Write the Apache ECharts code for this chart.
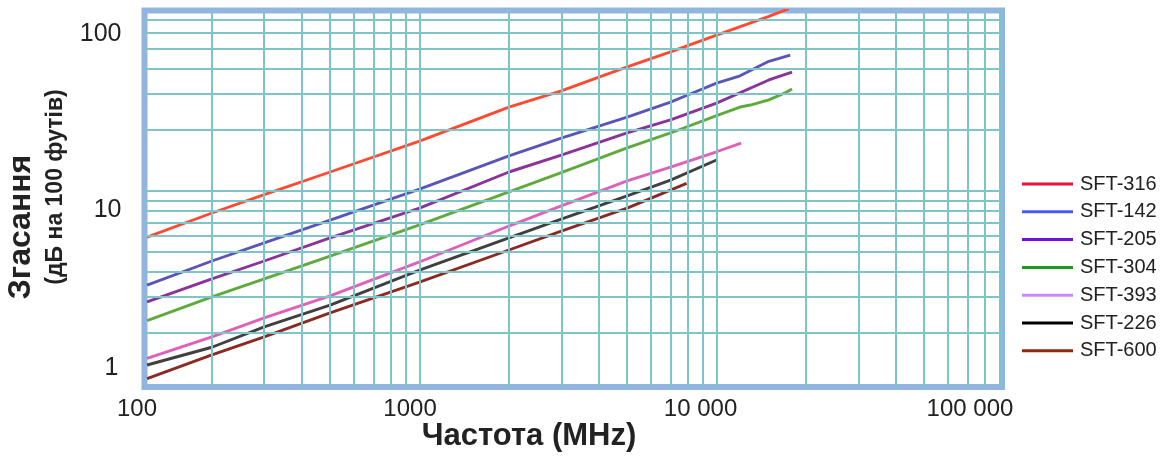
<!DOCTYPE html>
<html>
<head>
<meta charset="utf-8">
<script src="https://cdn.jsdelivr.net/npm/echarts@6/dist/echarts.min.js"></script>
<style>
  html, body { margin: 0; padding: 0; background: #ffffff; }
  #chart { width: 1170px; height: 456px; }
</style>
</head>
<body>
<div id="chart"></div>
<script>
// ---- data (frequency MHz, attenuation dB/100 ft) ----
const seriesNames = ['SFT-316', 'SFT-142', 'SFT-205', 'SFT-304', 'SFT-393', 'SFT-226', 'SFT-600'];

const f316 = [121, 200, 300, 500, 1000, 2000, 3000, 5000, 7000, 10000, 15000, 17500];
const a316 = [5.93, 7.79, 9.6, 12.4, 17.6, 25.9, 31.1, 40.8, 48.4, 58.6, 72.4, 79];

const f142 = [121, 200, 300, 500, 1000, 2000, 3000, 5000, 7000, 8000, 10000, 12000, 15000, 17700];
const a142 = [3.44, 4.52, 5.55, 7.19, 10.2, 14.9, 18.2, 23.1, 27.4, 29.7, 34.0, 36.9, 43.5, 46.7];

const f205 = [121, 200, 300, 500, 1000, 2000, 3000, 5000, 7000, 10000, 15000, 17950];
const a205 = [2.84, 3.69, 4.52, 5.87, 8.24, 12.4, 15.0, 19.3, 22.4, 27.1, 35.2, 38.5];

const f304 = [121, 200, 300, 500, 1000, 2000, 3000, 5000, 7000, 10000, 12000, 13000, 15000, 17000, 17950];
const a304 = [2.30, 3.01, 3.69, 4.78, 6.80, 9.89, 12.3, 16.3, 19.3, 23.5, 25.9, 26.5, 28.1, 30.4, 31.8];

const f393 = [121, 200, 300, 500, 1000, 2000, 3000, 5000, 7000, 10000, 12100];
const a393 = [1.50, 1.91, 2.37, 3.04, 4.47, 6.72, 8.44, 11.2, 13.1, 15.6, 17.2];

const f226 = [121, 200, 300, 500, 1000, 2000, 3000, 5000, 7000, 10000];
const a226 = [1.39, 1.70, 2.14, 2.74, 4.08, 5.87, 7.27, 9.45, 11.3, 14.2];

const f600 = [121, 200, 300, 500, 1000, 2000, 3000, 5000, 7930];
const a600 = [1.19, 1.56, 1.91, 2.51, 3.56, 5.12, 6.35, 8.24, 10.9];

// axis extents and tick labels
const xMin = 118.6, xMax = 91400;
const yMin = 1.083, yMax = 77.4;
const xTickLabels = ['100', '1000', '10 000', '100 000'];
const yTickLabels = ['1', '10', '100'];
const xGridValues = [200, 300, 400, 500, 600, 700, 800, 900, 1000,
  2000, 3000, 4000, 5000, 6000, 7000, 8000, 9000, 10000,
  20000, 30000, 40000, 50000, 60000, 70000, 80000, 90000];
const yGridValues = [2, 3, 4, 5, 6, 7, 8, 9, 10, 20, 30, 40, 50, 60, 70];

const xTitle = 'Частота (MHz)';
const yTitle = 'Згасання';
const ySubTitle = '(дБ на 100 футів)';

// ---- styling ----
const lineColors = ['#ff4a32', '#5a56b8', '#8a3398', '#5faa3e', '#e05fb8', '#404040', '#8a2a24'];
const legendColors = ['#e8143c', '#4a5cf0', '#7212d8', '#1c9a1c', '#c98cf6', '#000000', '#8c2c0c'];
const gridColor = '#7ec4c9';
const FONT = '"Liberation Sans", Arial, Helvetica, sans-serif';

function pairs(f, a) { return f.map((v, i) => [v, a[i]]); }
const fArr = [f316, f142, f205, f304, f393, f226, f600];
const aArr = [a316, a142, a205, a304, a393, a226, a600];

const chart = echarts.init(document.getElementById('chart'), null, { renderer: 'canvas' });

const series = [{
  name: '__grid',
  type: 'line',
  data: [],
  z: 1,
  silent: true,
  markLine: {
    silent: true,
    symbol: ['none', 'none'],
    label: { show: false },
    emphasis: { disabled: true },
    animation: false,
    lineStyle: { type: 'solid', color: gridColor, width: 2 },
    data: xGridValues.map(v => ({ xAxis: v })).concat(yGridValues.map(v => ({ yAxis: v })))
  }
}];
seriesNames.forEach((n, i) => {
  series.push({
    name: n,
    type: 'line',
    data: pairs(fArr[i], aArr[i]),
    showSymbol: false,
    symbol: 'none',
    smooth: false,
    z: 3,
    lineStyle: { color: lineColors[i], width: 2.9 },
    itemStyle: { color: lineColors[i] }
  });
});

chart.setOption({
  animation: false,
  backgroundColor: '#ffffff',
  grid: {
    left: 144.5, right: 168, top: 10.5, bottom: 69,
    show: true, borderColor: '#8fb5e0', borderWidth: 6, backgroundColor: '#ffffff',
    outerBoundsMode: 'none'
  },
  legend: {
    orient: 'vertical',
    left: 1017, top: 169,
    icon: 'rect',
    itemWidth: 51, itemHeight: 3,
    itemGap: 7.8,
    textStyle: { fontFamily: FONT, fontSize: 20, color: '#222222', lineHeight: 20, padding: [0, 0, 0, 2] },
    data: seriesNames.map((n, i) => ({ name: n, itemStyle: { color: legendColors[i] } })),
    selectedMode: false
  },
  xAxis: {
    type: 'log', logBase: 10, min: xMin, max: xMax,
    axisLine: { show: false }, axisTick: { show: false }, splitLine: { show: false },
    axisLabel: {
      showMinLabel: true, showMaxLabel: true, margin: 10,
      fontFamily: FONT, fontSize: 24, color: '#222222',
      formatter: function (v) {
        if (v < 500) return '{a|' + xTickLabels[0] + '}';
        if (v < 5000) return '{b|' + xTickLabels[1] + '}';
        if (v < 50000) return '{c|' + xTickLabels[2] + '}';
        return '{d|' + xTickLabels[3] + '}';
      },
      rich: {
        a: { fontFamily: FONT, fontSize: 24, color: '#222', padding: [0, 15, 0, 0] },
        b: { fontFamily: FONT, fontSize: 24, color: '#222', padding: [0, 19, 0, 0] },
        c: { fontFamily: FONT, fontSize: 24, color: '#222', padding: [0, 32, 0, 0] },
        d: { fontFamily: FONT, fontSize: 24, color: '#222', padding: [0, 64, 0, 0] }
      }
    }
  },
  yAxis: {
    type: 'log', logBase: 10, min: yMin, max: yMax,
    axisLine: { show: false }, axisTick: { show: false }, splitLine: { show: false },
    axisLabel: {
      showMinLabel: true, showMaxLabel: true, margin: 23,
      fontFamily: FONT, fontSize: 25, color: '#222222',
      formatter: function (v) {
        if (v < 2) return '{a|' + yTickLabels[0] + '}';
        if (v < 20) return '{b|' + yTickLabels[1] + '}';
        return '{c|' + yTickLabels[2] + '}';
      },
      rich: {
        a: { fontFamily: FONT, fontSize: 25, color: '#222', padding: [0, 3, 37, 0] },
        b: { fontFamily: FONT, fontSize: 25, color: '#222', padding: [38, 0, 0, 0] },
        c: { fontFamily: FONT, fontSize: 25, color: '#222', padding: [47, 0, 0, 0] }
      }
    }
  },
  graphic: [
    { type: 'text', x: 529, y: 436, style: { text: xTitle, fontFamily: FONT, fontWeight: 'bold', fontSize: 31, fill: '#222222', align: 'center', verticalAlign: 'middle' } },
    { type: 'text', x: 21, y: 227, rotation: Math.PI / 2, style: { text: yTitle, fontFamily: FONT, fontWeight: 'bold', fontSize: 32, fill: '#222222', align: 'center', verticalAlign: 'middle' } },
    { type: 'text', x: 56, y: 187, rotation: Math.PI / 2, style: { text: ySubTitle, fontFamily: FONT, fontWeight: 'bold', fontSize: 23, fill: '#222222', align: 'center', verticalAlign: 'middle' } }
  ],
  series: series
});
</script>
</body>
</html>
